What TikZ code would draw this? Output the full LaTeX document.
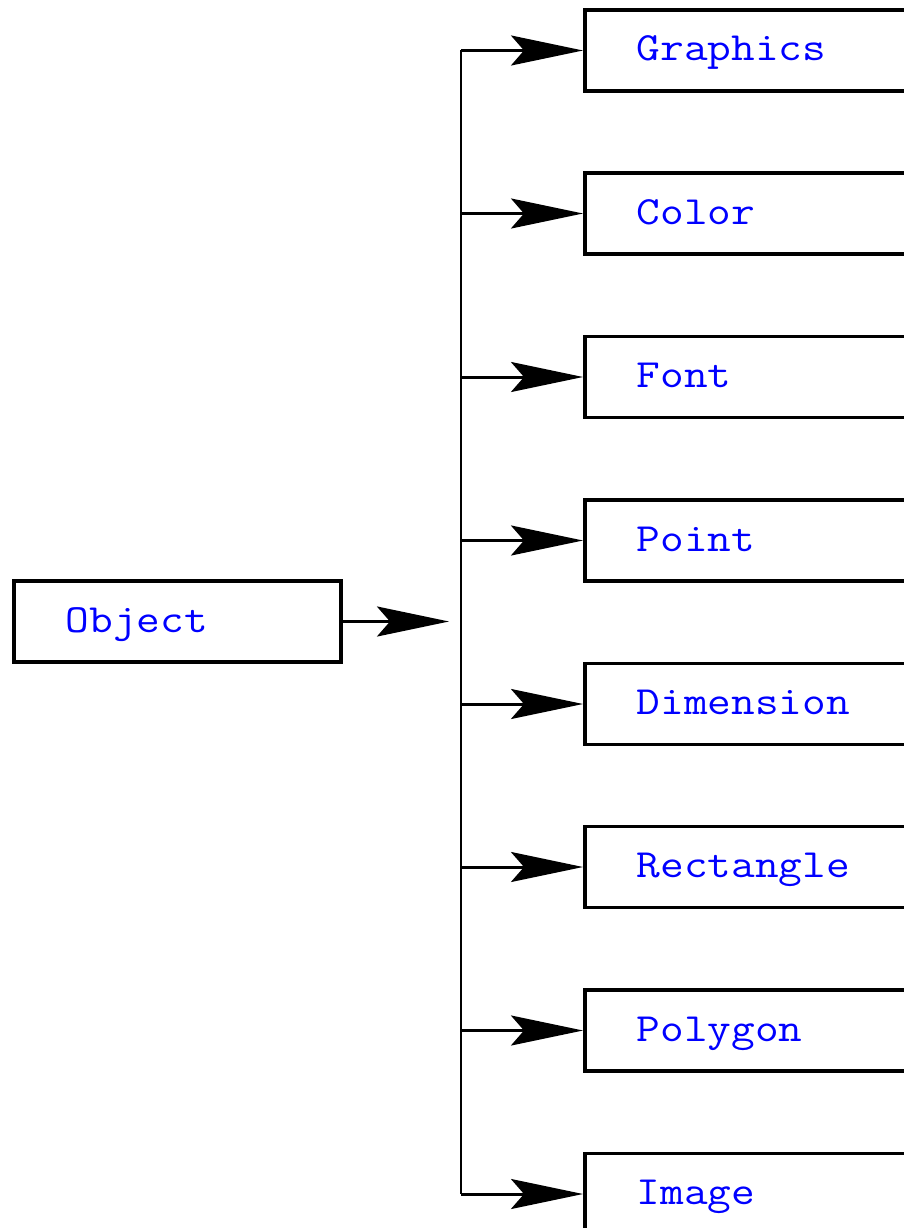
\documentclass[tikz,border=0pt]{standalone}
\usepackage{fontspec}
\newfontfamily\courfont[FakeStretch=1.15]{Latin Modern Mono}
\usetikzlibrary{arrows.meta}
\definecolor{txtblue}{RGB}{0,0,255}
\tikzset{
  cls/.style={draw, line width=3.5pt, rectangle, minimum height=81pt, inner xsep=52pt, inner ysep=0pt,
    text height=26.5pt, text depth=5.5pt,
    align=left, font=\courfont\fontsize{40}{48}\selectfont, text=txtblue, anchor=west},
  arr/.style={line width=3pt, -{Stealth[length=72pt,width=30pt,inset=13pt]}},
  trunk/.style={line width=2.5pt}
}
\begin{document}
\begin{tikzpicture}[x=1pt,y=-1pt]
\clip (0,0) rectangle (904,1228);
\fill[white] (0,0) rectangle (904,1228);
\node[cls, text width=223pt] (obj) at (12,621.5) {Object};
\node[cls, text width=320pt] (c1) at (583,50.5) {Graphics};
\node[cls, text width=320pt] (c2) at (583,213.5) {Color};
\node[cls, text width=320pt] (c3) at (583,377) {Font};
\node[cls, text width=320pt] (c4) at (583,540.5) {Point};
\node[cls, text width=320pt] (c5) at (583,704) {Dimension};
\node[cls, text width=320pt] (c6) at (583,867) {Rectangle};
\node[cls, text width=320pt] (c7) at (583,1030.5) {Polygon};
\node[cls, text width=320pt] (c8) at (583,1194) {Image};
\coordinate (m) at (449,621.5);
\coordinate (b1) at (461,50.5);
\coordinate (b2) at (461,213.5);
\coordinate (b3) at (461,377);
\coordinate (b4) at (461,540.5);
\coordinate (b5) at (461,704);
\coordinate (b6) at (461,867);
\coordinate (b7) at (461,1030.5);
\coordinate (b8) at (461,1194);
\draw[trunk] (b1) -- (b8);
\draw[arr] (obj.east) -- (m);
\foreach \i in {1,...,8} {\draw[arr] (b\i) -- (c\i.west);}
\end{tikzpicture}
\end{document}
